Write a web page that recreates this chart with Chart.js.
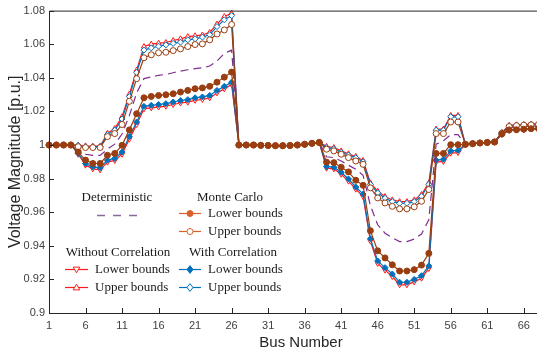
<!DOCTYPE html>
<html>
<head>
<meta charset="utf-8">
<script src="https://cdn.jsdelivr.net/npm/chart.js@4.4.1/dist/chart.umd.min.js"></script>
<style>
  html, body { margin: 0; padding: 0; background: #fff; overflow: hidden; width: 537px; height: 352px; }
</style>
</head>
<body>
<canvas id="chart" width="563" height="352"></canvas>
<script>
// bus numbers 1..69
const buses = [1,2,3,4,5,6,7,8,9,10,11,12,13,14,15,16,17,18,19,20,21,22,23,24,25,26,27,28,29,30,
  31,32,33,34,35,36,37,38,39,40,41,42,43,44,45,46,47,48,49,50,51,52,53,54,55,56,57,58,59,60,
  61,62,63,64,65,66,67,68,69];

const xTicks = [1,6,11,16,21,26,31,36,41,46,51,56,61,66];
const yTicks = [0.9,0.92,0.94,0.96,0.98,1,1.02,1.04,1.06,1.08];

// values
const deterministic = [1,1,1,1,0.9975,0.9945,0.9938,0.9938,0.9975,1.0005,1.0065,1.0175,1.031,1.0395,
  1.0405,1.0415,1.042,1.043,1.044,1.0448,1.0455,1.046,1.047,1.05,1.0545,1.0565,
  1,1,1,0.9998,0.9997,0.9996,0.9996,0.9997,1,1.0004,1.001,1.0015,
  0.993,0.9925,0.9905,0.988,0.9855,0.982,0.964,0.9525,0.9475,0.9448,0.9425,0.9425,0.944,0.947,0.9555,
  1.0005,1.0025,1.0062,1.0062,1.0004,1.0008,1.0012,1.0015,1.0018,
  1.0068,1.0104,1.0107,1.011,1.0112,1.0114,1.0115];

const mcLower = [1,1,1,1,0.9958,0.991,0.989,0.989,0.9939,0.995,0.9998,1.009,1.0186,1.0281,
  1.0289,1.0295,1.0299,1.0305,1.0315,1.0325,1.0335,1.034,1.0349,1.0374,1.0404,1.0434,
  1,1,1,0.9998,0.9997,0.9996,0.9996,0.9997,1,1.0004,1.001,1.0015,
  0.9898,0.9895,0.9868,0.984,0.979,0.976,0.949,0.937,0.9328,0.9287,0.925,0.925,0.9258,0.9285,0.9355,
  0.995,0.995,1.0002,1.0002,1.0004,1.0008,1.0012,1.0015,1.0018,
  1.0066,1.009,1.0091,1.0094,1.0097,1.0098,1.01];

const mcUpper = [1,1,1,1,0.999,0.9985,0.9985,0.9985,1.005,1.0068,1.0122,1.026,1.0395,1.0519,
  1.0537,1.0549,1.0552,1.0562,1.0572,1.0586,1.0598,1.0602,1.0626,1.0661,1.0685,1.0717,
  1,1,1,0.9998,0.9997,0.9996,0.9996,0.9997,1,1.0004,1.001,1.0015,
  0.9975,0.9965,0.9945,0.9925,0.9905,0.9885,0.9745,0.9685,0.9655,0.9635,0.962,0.962,0.9632,0.9665,0.9735,
  1.0068,1.0068,1.0137,1.0137,1.0004,1.0008,1.0012,1.0015,1.0018,
  1.007,1.011,1.0115,1.0118,1.012,1.0122,1.0124];

const noCorrLower = [1,1,1,1,0.9945,0.988,0.9858,0.9852,0.9898,0.9908,0.9945,1.0035,1.0122,1.0215,
  1.0221,1.0226,1.0231,1.0241,1.025,1.0255,1.0266,1.0271,1.028,1.031,1.0334,1.036,
  1,1,1,0.9998,0.9997,0.9996,0.9996,0.9997,1,1.0004,1.001,1.0015,
  0.9862,0.9858,0.9826,0.9785,0.9737,0.9693,0.9428,0.9295,0.9255,0.9217,0.9168,0.9168,0.9185,0.9207,0.9265,
  0.9898,0.9902,0.9952,0.9955,1.0004,1.0008,1.0012,1.0015,1.0018,
  1.0063,1.0087,1.0089,1.0092,1.0095,1.0096,1.0098];

const noCorrUpper = [1,1,1,1,1,0.9995,0.9993,0.9993,1.007,1.0098,1.0168,1.0303,1.0446,1.0586,
  1.06,1.0606,1.061,1.0622,1.0632,1.0645,1.065,1.0655,1.067,1.072,1.0765,1.0785,
  1,1,1,0.9998,0.9997,0.9996,0.9996,0.9997,1,1.0004,1.001,1.0016,
  0.9992,0.9985,0.9965,0.9948,0.9932,0.9908,0.9775,0.9725,0.9693,0.9673,0.9663,0.9663,0.9673,0.9705,0.9775,
  1.0095,1.0095,1.0176,1.0176,1.0004,1.0008,1.0012,1.0015,1.0018,
  1.0075,1.0117,1.012,1.0122,1.0125,1.0127,1.0128];

const corrLower = [1,1,1,1,0.995,0.989,0.987,0.9865,0.991,0.992,0.9958,1.005,1.0137,1.023,
  1.0236,1.0241,1.0246,1.0256,1.0265,1.027,1.0281,1.0286,1.0295,1.0325,1.0349,1.0374,
  1,1,1,0.9998,0.9997,0.9996,0.9996,0.9997,1,1.0004,1.001,1.0015,
  0.9872,0.9868,0.9838,0.9798,0.975,0.9708,0.9442,0.931,0.927,0.9232,0.9183,0.9183,0.92,0.9222,0.928,
  0.991,0.9915,0.9965,0.9968,1.0004,1.0008,1.0012,1.0015,1.0018,
  1.0064,1.0088,1.009,1.0093,1.0096,1.0097,1.0099];

const corrUpper = [1,1,1,1,0.9998,0.999,0.999,0.999,1.0062,1.0088,1.0155,1.0288,1.0432,1.0565,
  1.0578,1.0588,1.0596,1.0605,1.0612,1.0626,1.0632,1.0642,1.0656,1.0705,1.0745,1.077,
  1,1,1,0.9998,0.9997,0.9996,0.9996,0.9997,1,1.0004,1.001,1.0015,
  0.9985,0.9978,0.9957,0.994,0.9924,0.99,0.9765,0.9715,0.9683,0.9663,0.9653,0.9653,0.9663,0.9695,0.9765,
  1.0088,1.0088,1.0168,1.0168,1.0004,1.0008,1.0012,1.0015,1.0018,
  1.0073,1.0114,1.0118,1.012,1.0123,1.0125,1.0126];

const RED = '#ff1a1a', BLUE = '#0072bd', BROWN = '#9a3d10', PURPLE = '#7e2f8e';
const LEG_ORANGE = '#d9602a', LEG_PURPLE = '#8a6a9c';
const SANS = '"Liberation Sans", Arial, sans-serif';

function pts(arr) { return arr.map((v, i) => ({ x: buses[i], y: v })); }

function series(data, color, style, fill, extra) {
  return Object.assign({
    data: pts(data),
    borderColor: color,
    borderWidth: 1.2,
    pointStyle: style,
    pointRadius: 3,
    pointBorderWidth: 1,
    pointBorderColor: color,
    pointBackgroundColor: fill,
    tension: 0,
    clip: false
  }, extra || {});
}

// drawn top to bottom: index 0 ends up on top
const datasets = [
  series(mcLower, BROWN, 'circle', BROWN),
  series(mcUpper, BROWN, 'circle', '#fff'),
  series(deterministic, PURPLE, false, PURPLE, { pointRadius: 0, borderDash: [8, 5] }),
  series(corrLower, BLUE, 'rectRot', BLUE),
  series(corrUpper, BLUE, 'rectRot', '#fff'),
  series(noCorrLower, RED, 'triangle', '#fff', { pointRotation: 180 }),
  series(noCorrUpper, RED, 'triangle', '#fff')
];

function marker(ctx, kind, x, y, color, filled) {
  const r = 3;
  ctx.beginPath();
  if (kind === 'circle') ctx.arc(x, y, r, 0, Math.PI * 2);
  else if (kind === 'diamond') { ctx.moveTo(x, y - r * 1.3); ctx.lineTo(x + r, y); ctx.lineTo(x, y + r * 1.3); ctx.lineTo(x - r, y); ctx.closePath(); }
  else if (kind === 'up') { ctx.moveTo(x, y - r * 1.1); ctx.lineTo(x + r * 1.1, y + r * 0.8); ctx.lineTo(x - r * 1.1, y + r * 0.8); ctx.closePath(); }
  else if (kind === 'down') { ctx.moveTo(x, y + r * 1.1); ctx.lineTo(x + r * 1.1, y - r * 0.8); ctx.lineTo(x - r * 1.1, y - r * 0.8); ctx.closePath(); }
  ctx.fillStyle = filled ? color : '#fff';
  ctx.fill();
  ctx.lineWidth = 1;
  ctx.strokeStyle = color;
  ctx.stroke();
}

const frame = {
  id: 'frame',
  afterDraw(chart) {
    const { ctx, chartArea: a, scales: { x, y } } = chart;
    ctx.save();
    ctx.strokeStyle = '#262626';
    ctx.lineWidth = 1;
    ctx.beginPath();
    ctx.moveTo(a.right + 20, a.top + 0.5);
    ctx.lineTo(a.left + 0.5, a.top + 0.5);
    ctx.lineTo(a.left + 0.5, a.bottom + 0.5);
    ctx.lineTo(a.right + 20, a.bottom + 0.5);
    xTicks.forEach(v => {
      const px = Math.round(x.getPixelForValue(v)) + 0.5;
      ctx.moveTo(px, a.bottom);
      ctx.lineTo(px, a.bottom - 5);
    });
    yTicks.forEach(v => {
      const py = Math.round(y.getPixelForValue(v)) + 0.5;
      ctx.moveTo(a.left, py);
      ctx.lineTo(a.left + 5, py);
    });
    ctx.stroke();

    // legend
    ctx.font = '13px "Liberation Serif", "Times New Roman", serif';
    ctx.fillStyle = '#1a1a1a';
    ctx.textBaseline = 'middle';
    ctx.textAlign = 'center';
    ctx.fillText('Deterministic', 117, 198);
    ctx.fillText('Monte Carlo', 230, 198);
    ctx.fillText('Without Correlation', 118, 253);
    ctx.fillText('With Correlation', 233, 253);
    ctx.textAlign = 'left';
    const rows = [
      [179, 201, 213, LEG_ORANGE, 'circle', true, 'Lower bounds'],
      [179, 201, 231, LEG_ORANGE, 'circle', false, 'Upper bounds'],
      [65, 88, 269, RED, 'down', false, 'Lower bounds'],
      [65, 88, 287, RED, 'up', false, 'Upper bounds'],
      [179, 201, 269, BLUE, 'diamond', true, 'Lower bounds'],
      [179, 201, 287, BLUE, 'diamond', false, 'Upper bounds']
    ];
    rows.forEach(([x0, x1, yy, col, kind, filled, label]) => {
      ctx.beginPath();
      ctx.strokeStyle = col;
      ctx.lineWidth = 1.2;
      ctx.moveTo(x0, yy + 0.5);
      ctx.lineTo(x1, yy + 0.5);
      ctx.stroke();
      marker(ctx, kind, (x0 + x1) / 2, yy + 0.5, col, filled);
      ctx.fillStyle = '#1a1a1a';
      ctx.fillText(label, x1 + 7, yy + 1);
    });
    ctx.beginPath();
    ctx.strokeStyle = LEG_PURPLE;
    ctx.lineWidth = 1.5;
    ctx.setLineDash([8, 8]);
    ctx.moveTo(97, 215.5);
    ctx.lineTo(141, 215.5);
    ctx.stroke();
    ctx.restore();
  }
};

new Chart(document.getElementById('chart'), {
  type: 'line',
  data: { datasets: datasets },
  plugins: [frame],
  options: {
    responsive: false,
    animation: false,
    devicePixelRatio: 1,
    layout: { padding: { top: 10, right: 10, left: 0, bottom: 0 } },
    plugins: { legend: { display: false }, tooltip: { enabled: false } },
    scales: {
      x: {
        type: 'linear',
        min: 1,
        max: 70,
        afterFit: s => { s.height = 39; },
        afterBuildTicks: s => { s.ticks = xTicks.map(v => ({ value: v })); },
        grid: { display: false, drawTicks: false },
        border: { display: false },
        ticks: { autoSkip: false, maxRotation: 0, padding: 6, color: '#404040', font: { family: SANS, size: 11 } },
        title: { display: true, text: 'Bus Number', color: '#262626', padding: { top: 2, bottom: 0 }, font: { family: SANS, size: 15 } }
      },
      y: {
        min: 0.9,
        max: 1.08,
        afterFit: s => { s.width = 49; },
        afterBuildTicks: s => { s.ticks = yTicks.map(v => ({ value: v })); },
        grid: { display: false, drawTicks: false },
        border: { display: false },
        ticks: { padding: 4, color: '#404040', font: { family: SANS, size: 11 },
          callback: v => String(Math.round(v * 100) / 100) },
        title: { display: true, text: 'Voltage Magnitude [p.u.]', color: '#262626', padding: { top: 6, bottom: 0 }, font: { family: SANS, size: 16 } }
      }
    }
  }
});
</script>
</body>
</html>
